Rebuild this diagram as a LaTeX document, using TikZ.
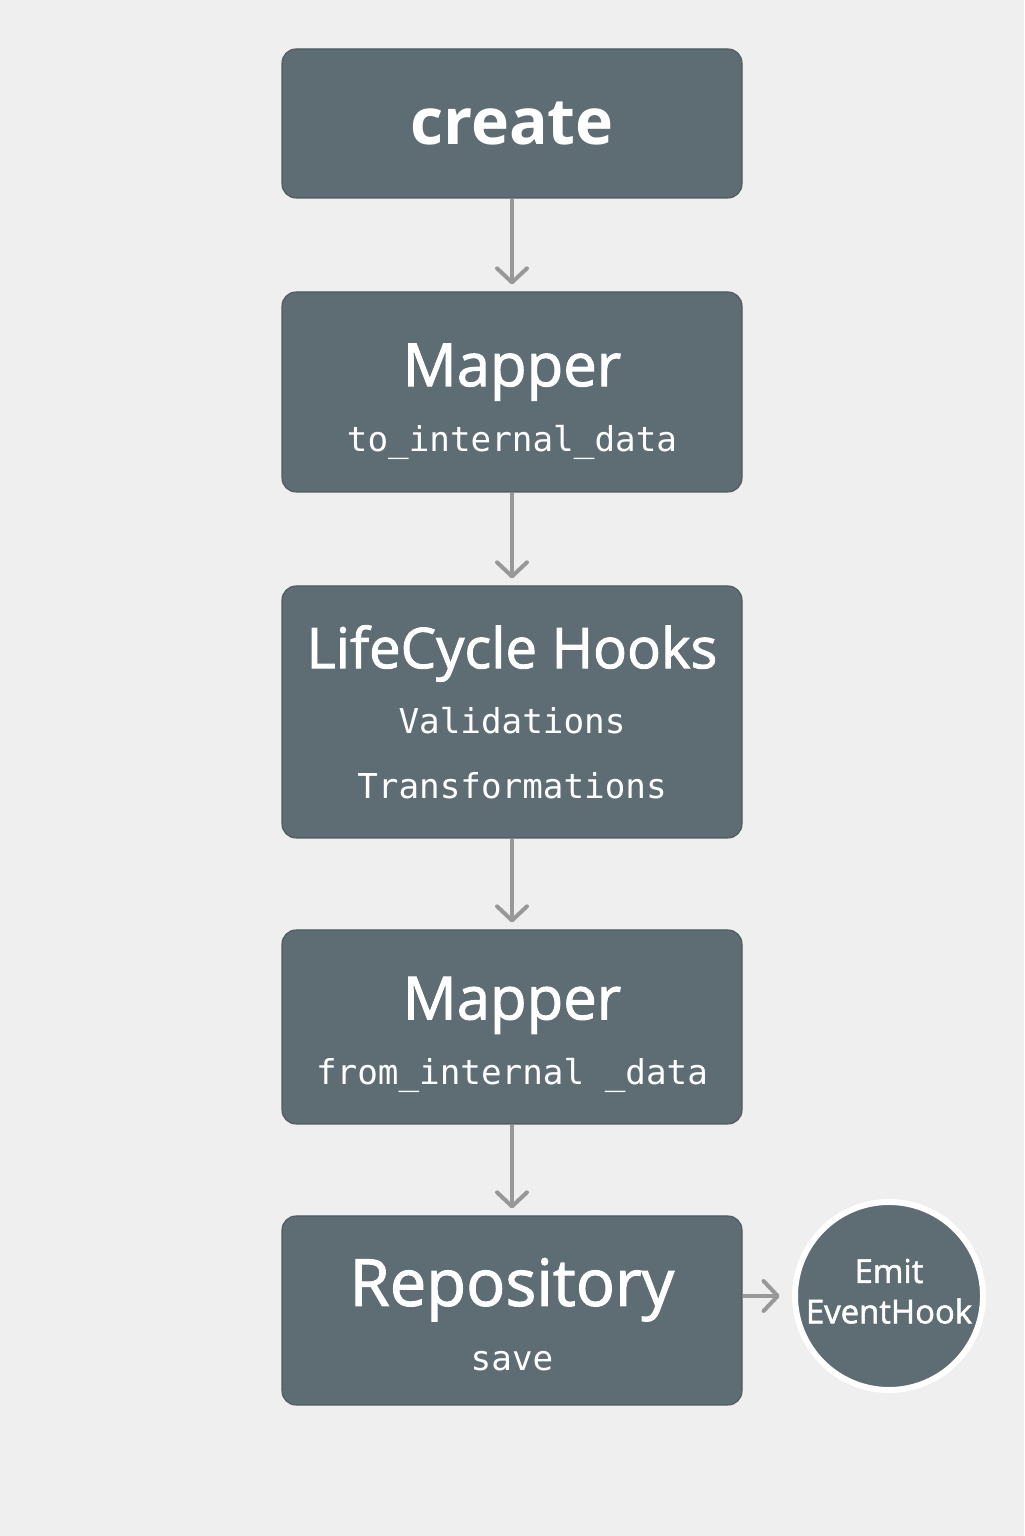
\documentclass[tikz,border=0pt]{standalone}
\usepackage{fontspec}
\setmainfont{Open Sans}
\setmonofont{DejaVu Sans Mono}
\newfontfamily\mediumfont{Open Sans}[FakeBold=1.6]
\usetikzlibrary{arrows.meta}
\definecolor{boxgray}{RGB}{94,108,115}
\definecolor{boxedge}{RGB}{78,90,96}
\definecolor{arrowgray}{RGB}{152,152,152}
\definecolor{paper}{RGB}{239,239,239}
\tikzset{my step box/.style={draw=boxedge, line width=0.6pt, fill=boxgray, rounded corners=0.28cm, minimum width=9.2cm, text=white, align=center, font=\fontsize{19.5}{37}\selectfont, inner sep=0pt},
my hook circle/.style={circle, draw=white, line width=3.4pt, fill=boxgray, minimum size=3.76cm, text=white, align=center, font=\fontsize{18.7}{23}\selectfont, inner sep=0pt},
my flow/.style={draw=arrowgray, line width=2.3pt, -{Straight Barb[length=8pt,width=17pt,round]}, shorten >=4pt},}

\begin{document}
\begin{tikzpicture}
\fill [paper] (  0.000000,  0.000000) rectangle ( 20.480000, 30.720000);
\useasboundingbox (  0.000000,  0.000000) rectangle ( 20.480000, 30.720000);
\node [my step box,minimum height=2.98cm] (create) at ( 10.240000, 28.250000) {{\fontsize{36.6}{36}\selectfont\bfseries create}};
\node [my step box,minimum height=4.00cm] (mapperto) at ( 10.240000, 22.880000) {{\mediumfont\fontsize{34}{36}\selectfont\rule{0pt}{35pt}Mapper}\\{\ttfamily to\_internal\_data}};
\node [my step box,minimum height=5.04cm] (hooks) at ( 10.240000, 16.480000) {{\mediumfont\fontsize{32}{36}\selectfont LifeCycle Hooks}\\{\ttfamily Validations}\\{\ttfamily Transformations}};
\node [my step box,minimum height=3.88cm] (mapperfrom) at ( 10.240000, 10.180000) {{\mediumfont\fontsize{34}{36}\selectfont\rule{0pt}{33pt}Mapper}\\{\ttfamily from\_internal \_data}};
\node [my step box,minimum height=3.78cm] (repo) at ( 10.240000,  4.510000) {{\mediumfont\fontsize{37}{36}\selectfont\rule{0pt}{32pt}Repository}\\{\ttfamily save}};
\node [my hook circle] (emit) at ( 17.780000,  4.800000) {{\mediumfont Emit}\\{\mediumfont EventHook\rule[-5.6pt]{0pt}{0pt}}};
\draw [my flow] (create) -- (mapperto);
\draw [my flow] (mapperto) -- (hooks);
\draw [my flow] (hooks) -- (mapperfrom);
\draw [my flow] (mapperfrom) -- (repo);
\draw [my flow,shorten >=7pt] (repo.east |- emit) -- (emit.west);
\end{tikzpicture}
\end{document}
